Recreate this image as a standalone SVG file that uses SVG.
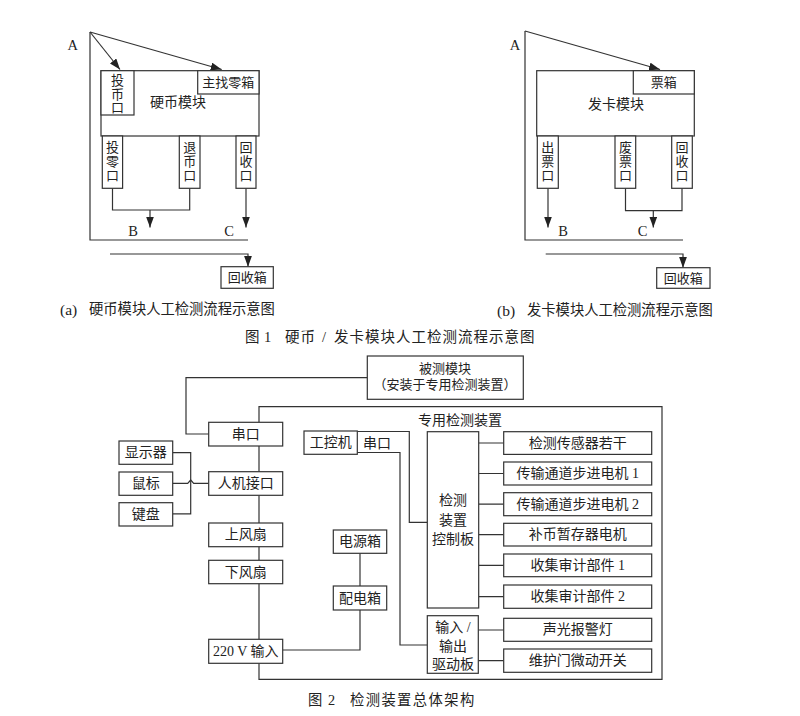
<svg xmlns="http://www.w3.org/2000/svg" width="800" height="716" viewBox="0 0 800 716">
<defs>
<marker id="arr" viewBox="0 0 11 8" refX="11" refY="4" markerWidth="11" markerHeight="8" markerUnits="userSpaceOnUse" orient="auto"><path d="M0,0 L11,4 L0,8 z" fill="#222"/></marker>
</defs>
<style>
.b{fill:#fff;stroke:#333;stroke-width:1.2}
.l{fill:none;stroke:#333;stroke-width:1.2}
.a{fill:none;stroke:#333;stroke-width:1.2;marker-end:url(#arr)}
text{font-family:"Liberation Serif","Noto Sans CJK SC",serif;fill:#222;font-size:14px;text-anchor:middle;dominant-baseline:central}
.s{font-size:13px}
.t{font-size:14.5px}
.cap{font-size:14.3px;text-anchor:start}
.p{font-size:15.5px}
</style>
<rect width="800" height="716" fill="#fff"/>

<!-- Figure 1 (a) -->
<g id="fig1a-connectors">
<path class="l" d="M90,32 V240 H248"/>
<path class="a" d="M90,32 L120,69.5"/>
<path class="a" d="M90,32 L221.7,69.5"/>
<path class="l" d="M112.5,188.3 V210 H189.7 V188.3"/>
<path class="a" d="M150,210 V227.5"/>
<path class="a" d="M246,188.3 V227.5"/>
<path class="a" d="M110,254 H248 V266.7"/>
</g>
<g id="a-labels">
<text class="t" x="72.7" y="45">A</text>
<text class="t" x="133" y="231">B</text>
<text class="t" x="229" y="231">C</text>
</g>
<g id="a-coin-module">
<rect class="b" x="101" y="70.7" width="158" height="65.3"/>
<text x="178" y="102">硬币模块</text>
</g>
<g id="a-coin-in">
<rect class="b" x="101" y="70.7" width="33" height="44.3"/>
<text class="s" x="117.5" y="80">投</text><text class="s" x="117.5" y="94">币</text><text class="s" x="117.5" y="107.5">口</text>
</g>
<g id="a-change-box">
<rect class="b" x="197.7" y="70.7" width="61.3" height="23.3"/>
<text class="s" x="228.3" y="82.5">主找零箱</text>
</g>
<g id="a-change-out">
<rect class="b" x="102.3" y="136" width="20.3" height="52.3"/>
<text class="s" x="112.5" y="147.7">投</text><text class="s" x="112.5" y="161.5">零</text><text class="s" x="112.5" y="175">口</text>
</g>
<g id="a-return">
<rect class="b" x="179.3" y="136" width="20.7" height="52.3"/>
<text class="s" x="189.7" y="147.7">退</text><text class="s" x="189.7" y="161.5">币</text><text class="s" x="189.7" y="175">口</text>
</g>
<g id="a-recycle">
<rect class="b" x="236" y="136" width="20" height="52.3"/>
<text class="s" x="246" y="147.7">回</text><text class="s" x="246" y="161.5">收</text><text class="s" x="246" y="175">口</text>
</g>
<g id="a-bin">
<rect class="b" x="221" y="266.7" width="52.3" height="21.6"/>
<text class="s" x="247.2" y="277.5">回收箱</text>
</g>
<text class="cap" x="60" y="309"><tspan class="p">(a)</tspan><tspan x="89">硬币模块人工检测流程示意图</tspan></text>

<!-- Figure 1 (b) -->
<g id="fig1b-connectors">
<path class="l" d="M525,31 V240 H683"/>
<path class="a" d="M525,31 L660,69.5"/>
<path class="a" d="M548,188.3 V227.5"/>
<path class="l" d="M625.5,188.3 V210.7 H682 V188.3"/>
<path class="a" d="M653.3,210.7 V227.5"/>
<path class="a" d="M545.7,254 H683 V267.7"/>
</g>
<g id="b-labels">
<text class="t" x="515" y="45">A</text>
<text class="t" x="563" y="231">B</text>
<text class="t" x="642.7" y="231">C</text>
</g>
<g id="b-card-module">
<rect class="b" x="536.7" y="70.7" width="157.6" height="65.3"/>
<text x="616" y="104">发卡模块</text>
</g>
<g id="b-ticket-box">
<rect class="b" x="633.3" y="70.7" width="61" height="23.3"/>
<text class="s" x="663.8" y="82.5">票箱</text>
</g>
<g id="b-out">
<rect class="b" x="537.3" y="136" width="21" height="52.3"/>
<text class="s" x="547.8" y="147.7">出</text><text class="s" x="547.8" y="161.5">票</text><text class="s" x="547.8" y="175">口</text>
</g>
<g id="b-waste">
<rect class="b" x="615" y="136" width="20.7" height="52.3"/>
<text class="s" x="625.4" y="147.7">废</text><text class="s" x="625.4" y="161.5">票</text><text class="s" x="625.4" y="175">口</text>
</g>
<g id="b-recycle">
<rect class="b" x="671.7" y="136" width="20.6" height="52.3"/>
<text class="s" x="682" y="147.7">回</text><text class="s" x="682" y="161.5">收</text><text class="s" x="682" y="175">口</text>
</g>
<g id="b-bin">
<rect class="b" x="656.7" y="267.7" width="53.3" height="20.6"/>
<text class="s" x="683.3" y="278">回收箱</text>
</g>
<text class="cap" x="497" y="310"><tspan class="p">(b)</tspan><tspan x="527">发卡模块人工检测流程示意图</tspan></text>

<text class="cap" x="245" y="336.5" style="font-size:14.5px;letter-spacing:1px">图<tspan x="264">1</tspan><tspan x="285">硬币</tspan><tspan x="322">/</tspan><tspan x="334">发卡模块人工检测流程示意图</tspan></text>

<!-- Figure 2 -->
<g id="fig2-connectors">
<path class="l" d="M367.3,377.7 H186 V434 H208.7"/>
<path class="l" d="M259,422.3 V406.7 H662 V679.3 H259 V663.3"/>
<path class="l" d="M259,446 V471.7 M259,495.3 V523 M259,546.7 V560.3 M259,583.7 V639.3"/>
<path class="l" d="M172.7,452.7 H190.7 V513.8 H172.7"/>
<path class="l" d="M172.7,483.3 H187.7 L190.7,480 L193.7,483.3 H208.7"/>
<path class="l" d="M357.3,431.5 H409.3 V522.3 H427.3"/>
<path class="l" d="M357.3,452.5 H400 V645 H427.3"/>
<path class="l" d="M360,553.3 V586"/>
<path class="l" d="M360,610 V650 H282.7"/>
<path class="l" d="M478.7,443 H503.7 M478.7,473.5 H503.7 M478.7,504.2 H503.7 M478.7,534.7 H503.7 M478.7,565.4 H503.7 M478.7,596.6 H503.7 M478.3,630 H503.7 M478.3,660.7 H503.7"/>
</g>
<g id="dut">
<rect class="b" x="367.3" y="356" width="156" height="43.3"/>
<text class="s" x="445" y="368.3">被测模块</text>
<text class="s" x="445" y="384">（安装于专用检测装置）</text>
</g>
<text id="device-label" x="460" y="420">专用检测装置</text>
<g id="serial"><rect class="b" x="208.7" y="422.3" width="74" height="23.7"/><text x="245.7" y="434.2">串口</text></g>
<g id="hmi"><rect class="b" x="208.7" y="471.7" width="74" height="23.6"/><text x="245.7" y="483.5">人机接口</text></g>
<g id="fan-up"><rect class="b" x="208.7" y="523" width="74" height="23.7"/><text x="245.7" y="534.9">上风扇</text></g>
<g id="fan-down"><rect class="b" x="208.7" y="560.3" width="74" height="23.4"/><text x="245.7" y="572">下风扇</text></g>
<g id="power-in"><rect class="b" x="208.7" y="639.3" width="74" height="24"/><text x="245.7" y="651.3">220 V 输入</text></g>
<g id="display"><rect class="b" x="119" y="441" width="53.7" height="23.3"/><text x="145.8" y="452.7">显示器</text></g>
<g id="mouse"><rect class="b" x="119" y="472" width="53.7" height="23.3"/><text x="145.8" y="483.6">鼠标</text></g>
<g id="keyboard"><rect class="b" x="119" y="502.7" width="53.7" height="23.3"/><text x="145.8" y="514.3">键盘</text></g>
<g id="ipc"><rect class="b" x="304" y="431" width="53.3" height="23.3"/><text x="330.7" y="442.7">工控机</text><text x="377" y="443">串口</text></g>
<g id="psu"><rect class="b" x="333.3" y="530" width="53.4" height="23.3"/><text x="360" y="541.7">电源箱</text></g>
<g id="dist"><rect class="b" x="333.3" y="586" width="53.4" height="24"/><text x="360" y="598">配电箱</text></g>
<g id="ctrl-board">
<rect class="b" x="427.3" y="431.7" width="51.4" height="176.3"/>
<text x="453" y="500">检测</text><text x="453" y="520">装置</text><text x="453" y="539.3">控制板</text>
</g>
<g id="io-board">
<rect class="b" x="427.3" y="615.7" width="51" height="57.6"/>
<text x="453" y="627">输入 /</text><text x="453" y="646">输出</text><text x="453" y="664">驱动板</text>
</g>
<g id="sensors"><rect class="b" x="503.7" y="431.7" width="148" height="22.7"/><text x="577.7" y="443">检测传感器若干</text></g>
<g id="motor1"><rect class="b" x="503.7" y="462" width="148" height="23"/><text x="577.7" y="473.5">传输通道步进电机 1</text></g>
<g id="motor2"><rect class="b" x="503.7" y="492.7" width="148" height="23"/><text x="577.7" y="504.2">传输通道步进电机 2</text></g>
<g id="buffer-motor"><rect class="b" x="503.7" y="523.3" width="148" height="22.7"/><text x="577.7" y="534.7">补币暂存器电机</text></g>
<g id="audit1"><rect class="b" x="503.7" y="554" width="148" height="22.7"/><text x="577.7" y="565.4">收集审计部件 1</text></g>
<g id="audit2"><rect class="b" x="503.7" y="585" width="148" height="23.3"/><text x="577.7" y="596.6">收集审计部件 2</text></g>
<g id="alarm"><rect class="b" x="503.7" y="618.3" width="148" height="23"/><text x="577.7" y="629.8">声光报警灯</text></g>
<g id="door-switch"><rect class="b" x="503.7" y="649" width="148" height="23.3"/><text x="577.7" y="660.7">维护门微动开关</text></g>

<text class="cap" x="308" y="700" style="letter-spacing:1.4px">图<tspan x="328">2</tspan><tspan x="350">检测装置总体架构</tspan></text>
</svg>
